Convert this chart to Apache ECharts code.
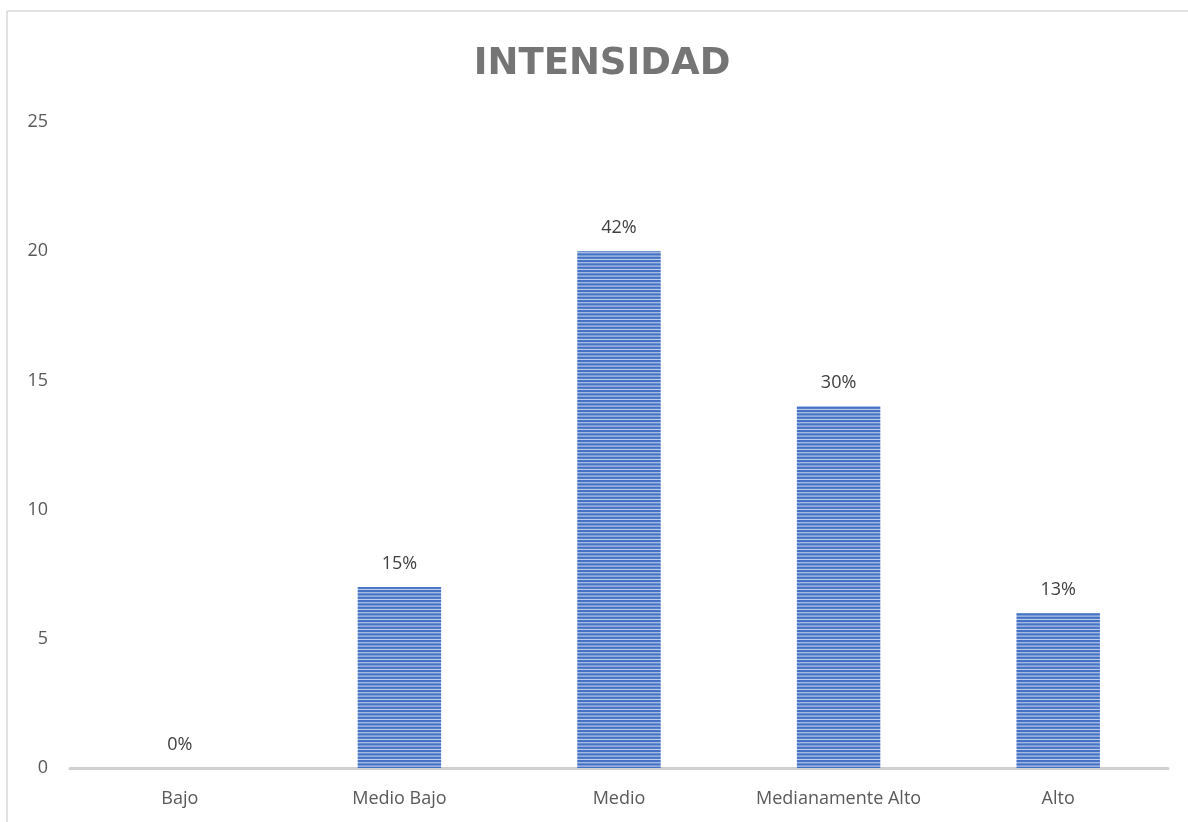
<!DOCTYPE html>
<html>
<head>
<meta charset="utf-8">
<script src="https://cdn.jsdelivr.net/npm/echarts@6/dist/echarts.min.js"></script>
<style>html,body{margin:0;padding:0;background:#fff}#c{width:1188px;height:822px}</style>
</head>
<body>
<div id="c"></div>
<script>
var categories = ['Bajo', 'Medio Bajo', 'Medio', 'Medianamente Alto', 'Alto'];
var values = [0, 7, 20, 14, 6];
var percentLabels = ['0%', '15%', '42%', '30%', '13%'];
var yTicks = [0, 5, 10, 15, 20, 25];

var pc = document.createElement('canvas');
pc.width = 4; pc.height = 10;
var ctx = pc.getContext('2d');
ctx.fillStyle = '#bccbea';
ctx.fillRect(0, 0, 4, 10);
ctx.fillStyle = '#4472c4';
ctx.fillRect(0, 0, 4, 2.2);
ctx.fillRect(0, 3.33, 4, 2.2);
ctx.fillRect(0, 6.67, 4, 2.2);

var chart = echarts.init(document.getElementById('c'));
chart.setOption({
  animation: false,
  backgroundColor: '#fff',
  title: {
    text: 'INTENSIDAD',
    left: 597, top: 41, textAlign: 'center',
    textStyle: { fontFamily: 'DejaVu Sans', fontSize: 37, fontWeight: 'bold', color: '#757575' }
  },
  graphic: [
    { type: 'line', shape: { x1: 7, y1: 11, x2: 1188, y2: 11 }, style: { stroke: '#d9d9d9', lineWidth: 1.5 } },
    { type: 'line', shape: { x1: 7, y1: 11, x2: 7, y2: 822 }, style: { stroke: '#d9d9d9', lineWidth: 1.5 } }
  ],
  grid: { left: 70, right: 20, top: 122, bottom: 54 },
  xAxis: {
    type: 'category',
    data: categories,
    axisLine: { lineStyle: { color: '#d0d0d0', width: 3 } },
    axisTick: { show: false },
    axisLabel: { color: '#595959', fontSize: 18, fontFamily: 'Open Sans', margin: 22 }
  },
  yAxis: {
    type: 'value',
    min: yTicks[0], max: yTicks[yTicks.length - 1], interval: 5,
    splitLine: { show: false },
    axisLine: { show: false },
    axisTick: { show: false },
    axisLabel: { color: '#595959', fontSize: 18, fontFamily: 'Open Sans', margin: 22 }
  },
  series: [{
    type: 'bar',
    data: values,
    barWidth: '38%',
    itemStyle: { color: { image: pc, repeat: 'repeat' } },
    label: {
      show: true, position: 'top', distance: 14,
      color: '#404040', fontSize: 18, fontFamily: 'Open Sans',
      formatter: function (p) { return percentLabels[p.dataIndex]; }
    }
  }]
});
</script>
</body>
</html>
